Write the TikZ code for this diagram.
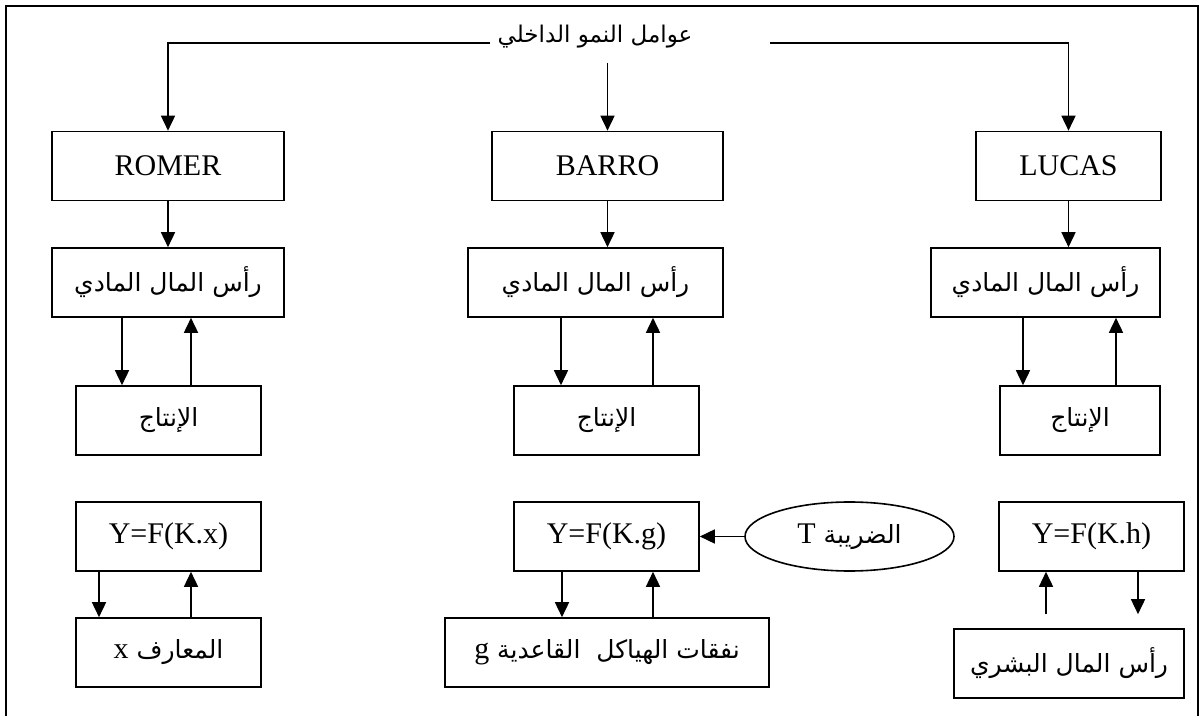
\documentclass[tikz,border=0pt]{standalone}
\usepackage{fontspec}
\setmainfont{Liberation Serif}
\newfontfamily\ar[Script=Arabic]{DejaVu Sans}
\TeXXeTstate=1
\usetikzlibrary{arrows.meta,shapes.geometric,calc}
\tikzset{
  box/.style={draw, line width=0.8pt, rectangle, inner sep=0pt, minimum height=34.5pt, font=\fontsize{15}{18}\selectfont},
  oval/.style={draw, line width=0.8pt, ellipse, inner sep=0pt, minimum width=104.5pt, minimum height=34.5pt, font=\fontsize{15}{18}\selectfont},
  arr/.style={line width=0.8pt, -{Triangle[length=7.5pt,width=7pt]}},
  ln/.style={line width=0.8pt}
}
\newcommand{\AR}[1]{{\ar\fontsize{12.5}{15}\selectfont\beginR #1\endR}}
\newcommand{\ARt}[1]{{\ar\fontsize{11.5}{14}\selectfont\beginR #1\endR}}
\newcommand{\LT}[1]{{\normalfont\fontsize{15}{18}\selectfont #1}}
\begin{document}
\begin{tikzpicture}[x=0.5pt,y=-0.5pt]
\useasboundingbox (0,0) rectangle (1200,716);
\draw[ln] (6,716) -- (6,6) -- (1198,6) -- (1198,716);

% title
\node[inner sep=0pt] (title) at (595,37) {\ARt{عوامل النمو الداخلي}};
\coordinate (tl) at (490,43);
\coordinate (tr) at (770,43);
\coordinate (tc) at (607.5,63);

% top row
\node[box, minimum width=116pt] (romer) at (168,166) {ROMER};
\node[box, minimum width=115.5pt] (barro) at (607.5,166) {BARRO};
\node[box, minimum width=92.5pt] (lucas) at (1068.5,166) {LUCAS};

% capital row
\node[box, minimum width=116pt] (rmL) at (168,282.5) {\AR{رأس المال المادي}\hspace{10pt}};
\node[box, minimum width=127.5pt] (rmM) at (595.5,282.5) {\AR{رأس المال المادي}\hspace{21.5pt}};
\node[box, minimum width=114.5pt] (rmR) at (1045.5,282.5) {\AR{رأس المال المادي}\hspace{10.5pt}};

% production row
\node[box, minimum width=92.5pt] (inL) at (168.5,420.5) {\AR{الإنتاج}};
\node[box, minimum width=92.5pt] (inM) at (606.5,420.5) {\AR{الإنتاج}};
\node[box, minimum width=80pt] (inR) at (1080,420.5) {\AR{الإنتاج}};

% function row
\node[box, minimum width=92.5pt] (yL) at (168.5,536.5) {Y=F(K.x)};
\node[box, minimum width=92.5pt] (yM) at (606.5,536.5) {Y=F(K.g)};
\node[box, minimum width=92.5pt] (yR) at (1091.5,536.5) {Y=F(K.h)};
\node[oval] (tax) at (849.5,536.5) {\AR{الضريبة \LT{T}}};

% bottom row
\node[box, minimum width=92.5pt] (mL) at (168.5,652.5) {\AR{المعارف \LT{x}}};
\node[box, minimum width=162pt] (mM) at (607,652.5) {\AR{نفقات الهياكل\ \ القاعدية \LT{g}}};
\node[box, minimum width=115pt] (mR) at (1069,663.5) {\AR{رأس المال البشري}\hspace{32pt}};

% top connectors
\draw[arr] (tl) -| (romer.north);
\draw[arr] (tr) -| (lucas.north);
\draw[arr] (tc) -- (barro.north);

\draw[arr] (romer.south) -- (romer.south |- rmL.north);
\draw[arr] (barro.south) -- (barro.south |- rmM.north);
\draw[arr] (lucas.south) -- (lucas.south |- rmR.north);

% capital <-> production
\draw[arr] ([xshift=-23pt]rmL.south) -- ([xshift=-23pt]rmL.south |- inL.north);
\draw[arr] ([xshift=11.25pt]inL.north) -- ([xshift=11.25pt]inL.north |- rmL.south);
\draw[arr] ([xshift=-17.25pt]rmM.south) -- ([xshift=-17.25pt]rmM.south |- inM.north);
\draw[arr] ([xshift=23.25pt]inM.north) -- ([xshift=23.25pt]inM.north |- rmM.south);
\draw[arr] ([xshift=-11.25pt]rmR.south) -- ([xshift=-11.25pt]rmR.south |- inR.north);
\draw[arr] ([xshift=18pt]inR.north) -- ([xshift=18pt]inR.north |- rmR.south);

% function <-> bottom
\draw[arr] ([xshift=-34.75pt]yL.south) -- ([xshift=-34.75pt]yL.south |- mL.north);
\draw[arr] ([xshift=11.25pt]mL.north) -- ([xshift=11.25pt]mL.north |- yL.south);
\draw[arr] ([xshift=-22.25pt]yM.south) -- ([xshift=-22.25pt]yM.south |- mM.north);
\draw[arr] ([xshift=23pt]mM.north) -- ([xshift=23pt]mM.north |- yM.south);
\draw[arr] (tax.west) -- (yM.east);
\draw[arr] ($(mR.north)+(-11.5pt,7pt)$) -- ($(mR.north |- yR.south)+(-11.5pt,0pt)$);
\draw[arr] ($(yR.south)+(23.25pt,0pt)$) -- ($(yR.south |- mR.north)+(23.25pt,7pt)$);
\end{tikzpicture}
\end{document}
